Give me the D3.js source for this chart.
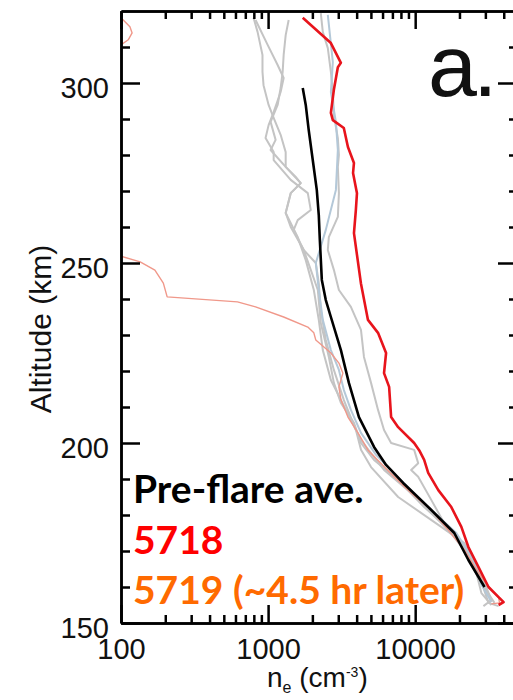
<!DOCTYPE html>
<html>
<head>
<meta charset="utf-8">
<script src="https://cdn.jsdelivr.net/npm/d3@7/dist/d3.min.js"></script>
<style>
body { margin: 0; background: #fff; }
.axis path, .axis line { stroke: #000; stroke-width: 2.5; }
.axis text { font-family: "Liberation Sans", Arial, sans-serif; font-size: 29px; fill: #111; }
</style>
</head>
<body>
<div id="chart"></div>
<script>
var width = 513,
    height = 700,
    plotLeft = 121, plotRight = 518, plotTop = 11, plotBottom = 623;

// each profile is [ne (cm^-3), altitude (km)]
var preflareAve = [[1720,298.6],[1803,293.9],[1889,286.9],[2012,278.6],[2143,270.3],[2211,263.3],[2248,256.4],[2319,245.3],
    [2468,239.7],[2672,235],[3126,225.8],[3542,216.7],[4146,207.2],[5250,198.9],[6340,193.9],[8280,188.9],[12860,181.4],
    [18450,175],[23000,167.5],[29600,160]];

var run5718 = [[1720,318.1],[2672,311.1],[3126,305.6],[2980,304.4],[2800,298.1],[2672,291.7],[2755,289.7],[3272,287.5],
    [3490,282.2],[3835,277.8],[3780,275],[4020,269.4],[3950,264.7],[3835,258.3],[4275,244.4],[4775,234.2],[5590,230.6],
    [6340,225],[6140,219.4],[6650,215.6],[6860,207.2],[7660,204.4],[9840,200],[10640,198],[11510,195.3],[12260,191.7],
    [14360,186.9],[17600,182.2],[20600,176.7],[23000,171.1],[26900,165.6],[31500,160],[36900,157.2],[39900,155.8],[36900,155]];

var run5719Top = [[80,319],[100,318.1],[115,315.6],[119,313.9],[112,312],[100,310.6],[80,309.5]];

var run5719 = [[80,252.6],[100,251.9],[135,250.3],[170,248],[194,244.4],[206,240.6],[619,239.2],[822,237.8],[1276,235],
    [1862,232.2],[2046,230.6],[2110,228.6],[2672,225],[3030,222.2],[3225,219.4],[3030,215.6],[3126,212],[3490,207.2],
    [4085,202.8],[4780,198],[7190,190.6],[9400,186.1],[12860,181.4],[16800,175.8],[21600,170.3],[26900,163.9],
    [33000,159.2],[36900,157],[37500,155.6],[33000,155.3]];

var preflare1 = [[796,318.1],[848,314.2],[916,307.8],[916,303.1],[931,299.4],[1008,293.9],[1091,290.3],[1217,285.6],
    [1317,280.8],[1317,276.7],[1667,272.2],[1425,269.4],[1317,263.9],[1425,260],[1747,253.6],[1951,248.1],[2178,242.5],
    [2282,233.3],[2588,223.9],[2800,216.7],[3126,211.1],[3835,205.6],[4280,200],[5250,195.3],[7660,189.7],[11510,182.2],
    [19660,173.9],[26900,163.9],[31500,155.6],[36900,154.7]];

var preflare2 = [[822,317.5],[993,310.6],[1161,305],[1276,301.4],[1217,297.5],[1091,291.9],[1008,288.3],[961,284.7],
    [1091,280.8],[1091,278.6],[1425,273.1],[1862,269.4],[1951,264.7],[1590,261.9],[1493,259.2],[1747,253.6],[2110,250],
    [2211,244.4],[2282,236.9],[2468,228.6],[2800,220.3],[3275,211.9],[3955,203.6],[4280,198.1],[5010,193.3],[7660,185],
    [15030,176.7],[21600,172.2],[25300,166.7],[29600,161.1],[33000,156.4],[29100,154.7]];

var preflare3 = [[1380,317.5],[1317,313.3],[1276,307.8],[1256,303.1],[1217,298.6],[1161,293.9],[1040,289.2],[1125,284.2],
    [1040,281.4],[1317,276.7],[1541,273.9],[1667,272.2],[1425,269.4],[1317,263.9],[1590,257.2],[1803,250.8],[2046,242.5],
    [2211,234.2],[2355,225.8],[2672,217.5],[3380,209.2],[4280,200.8],[6140,192.5],[9390,186.1],[15030,177.8],[24100,169.4],
    [28200,158.3],[33000,155]];

var preflare4 = [[2282,319.4],[2355,314.2],[2547,309.7],[2672,303.1],[2755,297.5],[2800,291.1],[2980,284.7],[3030,280],
    [2980,276.7],[3030,269.4],[2980,262.8],[2588,257.2],[2547,253.6],[2800,248.1],[3030,242.5],[3655,237.8],[4280,231.4],
    [4485,223.9],[5010,216.7],[5590,209.2],[6140,203.6],[6860,200],[9840,198.1],[10480,194.4],[9390,192.5],[10480,190.6],
    [12860,184.2],[16280,176.7],[22300,169.4],[27300,161.9],[34600,155.6]];

var preflare5 = [[2547,318.9],[2755,305.8],[2672,297.5],[2890,289.2],[2980,281.4],[2890,270.3],[2468,259.2],[2110,250],
    [2211,242.5],[2355,234.2],[2672,225.8],[3030,220.3],[3275,214.7],[3655,209.2],[4280,202.8],[5420,196.7],[8020,189.7],
    [12860,181.4],[19040,175],[24900,167.5],[28200,160.6],[33000,155.8]];

var xMajorTicks = [100, 1000, 10000];
var yMajorTicks = [150, 200, 250, 300];
var legendLabels = ["Pre-flare ave.", "5718", "5719 (~4.5 hr later)"];
var legendColors = ["#000000", "#ff0000", "#ff6a00"];

var svg = d3.select("#chart")
    .append("svg")
    .attr("width", width)
    .attr("height", height)
    .style("display", "block");

var x = d3.scaleLog().domain([100, 50000]).range([plotLeft, plotRight]);
var y = d3.scaleLinear().domain([150, 320]).range([plotBottom, plotTop]);

var xMinor = x.ticks().filter(d => xMajorTicks.indexOf(d) < 0);
var yMinor = d3.range(160, 320, 10).filter(d => yMajorTicks.indexOf(d) < 0);

svg.append("clipPath").attr("id", "plot")
    .append("rect")
    .attr("x", plotLeft).attr("y", plotTop)
    .attr("width", plotRight - plotLeft).attr("height", plotBottom - plotTop);

var line = d3.line()
    .x(d => x(d[0]))
    .y(d => y(d[1]));

var curves = svg.append("g").attr("clip-path", "url(#plot)")
    .style("fill", "none")
    .style("stroke-linejoin", "round");

[preflare1, preflare2, preflare3, preflare4].forEach(p => {
    curves.append("path").attr("d", line(p))
        .style("stroke", "#c4c4c4").style("stroke-width", 2);
});
curves.append("path").attr("d", line(preflare5))
    .style("stroke", "#b4c8d8").style("stroke-width", 2);

[run5719Top, run5719].forEach(p => {
    curves.append("path").attr("d", line(p))
        .style("stroke", "#f0988a").style("stroke-width", 1.4);
});

curves.append("path").attr("d", line(preflareAve))
    .style("stroke", "#000").style("stroke-width", 2.6);
curves.append("path").attr("d", line(run5718))
    .style("stroke", "#e8141c").style("stroke-width", 2.6);

// axes: minor ticks first, then major ticks with labels
function addAxis(gen, tx, ty) {
    var g = svg.append("g").attr("class", "axis")
        .attr("transform", "translate(" + tx + "," + ty + ")")
        .call(gen);
    return g;
}

addAxis(d3.axisBottom(x).tickValues(xMinor).tickSize(-8).tickSizeOuter(0).tickFormat(""), 0, plotBottom);
addAxis(d3.axisTop(x).tickValues(xMinor).tickSize(-8).tickSizeOuter(0).tickFormat(""), 0, plotTop);
addAxis(d3.axisLeft(y).tickValues(yMinor).tickSize(-9).tickSizeOuter(0).tickFormat(""), plotLeft, 0);
addAxis(d3.axisRight(y).tickValues(yMinor).tickSize(-9).tickSizeOuter(0).tickFormat(""), plotRight, 0);

addAxis(d3.axisBottom(x).tickValues(xMajorTicks).tickSize(-18).tickSizeOuter(0).tickPadding(15)
    .tickFormat(d3.format("d")), 0, plotBottom);
addAxis(d3.axisTop(x).tickValues(xMajorTicks).tickSize(-18).tickSizeOuter(0).tickFormat(""), 0, plotTop);
addAxis(d3.axisLeft(y).tickValues(yMajorTicks).tickSize(-19).tickSizeOuter(0).tickPadding(12)
    .tickFormat(d3.format("d")), plotLeft, 0)
    .selectAll("text").attr("dy", "0.5em");
addAxis(d3.axisRight(y).tickValues(yMajorTicks).tickSize(-20).tickSizeOuter(0).tickFormat(""), plotRight, 0);

// axis titles
svg.append("text")
    .attr("transform", "translate(51," + ((plotTop + plotBottom) / 2 + 12) + ") rotate(-90)")
    .attr("text-anchor", "middle")
    .style("font-family", "Liberation Sans, Arial, sans-serif")
    .style("font-size", "30px")
    .style("fill", "#111")
    .text("Altitude (km)");

var xt = svg.append("text")
    .attr("x", 267).attr("y", 687)
    .style("font-family", "Liberation Sans, Arial, sans-serif")
    .style("font-size", "28px")
    .style("fill", "#111");
xt.append("tspan").text("n");
xt.append("tspan").attr("dy", 6).style("font-size", "16px").text("e");
xt.append("tspan").attr("dy", -6).text(" (cm");
xt.append("tspan").attr("dy", -10).style("font-size", "14px").text("-3");
xt.append("tspan").attr("dy", 10).text(")");

// panel letter
svg.append("text")
    .attr("x", 428).attr("y", 96)
    .style("font-family", "Liberation Sans, Arial, sans-serif")
    .style("font-size", "88px")
    .style("letter-spacing", "-4px")
    .style("fill", "#111")
    .text("a.");

// legend
svg.selectAll(".legend")
    .data(legendLabels)
    .enter()
    .append("text")
    .attr("class", "legend")
    .attr("x", 133)
    .attr("y", (d, i) => 503 + i * 50.5)
    .style("font-family", "Lato, 'Open Sans', sans-serif")
    .style("font-weight", "bold")
    .style("font-size", "39px")
    .style("fill", (d, i) => legendColors[i])
    .text(d => d);
</script>
</body>
</html>
